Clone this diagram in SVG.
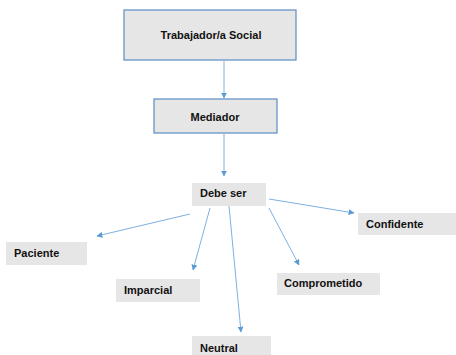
<svg xmlns="http://www.w3.org/2000/svg" width="456" height="355" viewBox="0 0 456 355">
<style>
.box{fill:#e7e6e6;stroke:#5b8cc4;stroke-width:1.2}
.plain{fill:#e7e6e6}
.t{font-family:"Liberation Sans",Arial,sans-serif;font-weight:bold;font-size:11px;fill:#111}
.c{stroke:#6fa6dc;stroke-width:0.9;fill:none;marker-end:url(#ah)}
</style>
<defs>
<marker id="ah" viewBox="0 0 10 10" refX="9" refY="5" markerWidth="6" markerHeight="6" markerUnits="userSpaceOnUse" orient="auto">
<path d="M0,0 L10,5 L0,10 z" fill="#5b9bd5"/>
</marker>
</defs>
<rect width="456" height="355" fill="#fff"/>
<g id="connectors">
<line class="c" x1="224" y1="61" x2="224" y2="98"/>
<line class="c" x1="224" y1="134" x2="224" y2="176"/>
<line class="c" x1="190" y1="214" x2="97" y2="236"/>
<line class="c" x1="210" y1="208" x2="193" y2="270"/>
<line class="c" x1="229" y1="206" x2="241" y2="332"/>
<line class="c" x1="269" y1="208" x2="299" y2="265"/>
<line class="c" x1="269" y1="199" x2="354" y2="213"/>
</g>
<g id="trabajador">
<rect class="box" x="124" y="10" width="172" height="50"/>
<text class="t" x="211" y="39" text-anchor="middle">Trabajador/a  Social</text>
</g>
<g id="mediador">
<rect class="box" x="154" y="99" width="123" height="34"/>
<text class="t" x="215" y="121" text-anchor="middle">Mediador</text>
</g>
<g id="debeser">
<rect class="plain" x="192" y="183" width="74" height="23"/>
<text class="t" x="200" y="197">Debe ser</text>
</g>
<g id="confidente">
<rect class="plain" x="358" y="213" width="98" height="22"/>
<text class="t" x="366" y="228">Confidente</text>
</g>
<g id="paciente">
<rect class="plain" x="6" y="242" width="81" height="23"/>
<text class="t" x="14" y="257">Paciente</text>
</g>
<g id="imparcial">
<rect class="plain" x="116" y="279" width="84" height="23"/>
<text class="t" x="124" y="294">Imparcial</text>
</g>
<g id="comprometido">
<rect class="plain" x="277" y="273" width="103" height="22"/>
<text class="t" x="284" y="287">Comprometido</text>
</g>
<g id="neutral">
<rect class="plain" x="192" y="336" width="79" height="19"/>
<text class="t" x="200" y="352">Neutral</text>
</g>
</svg>
